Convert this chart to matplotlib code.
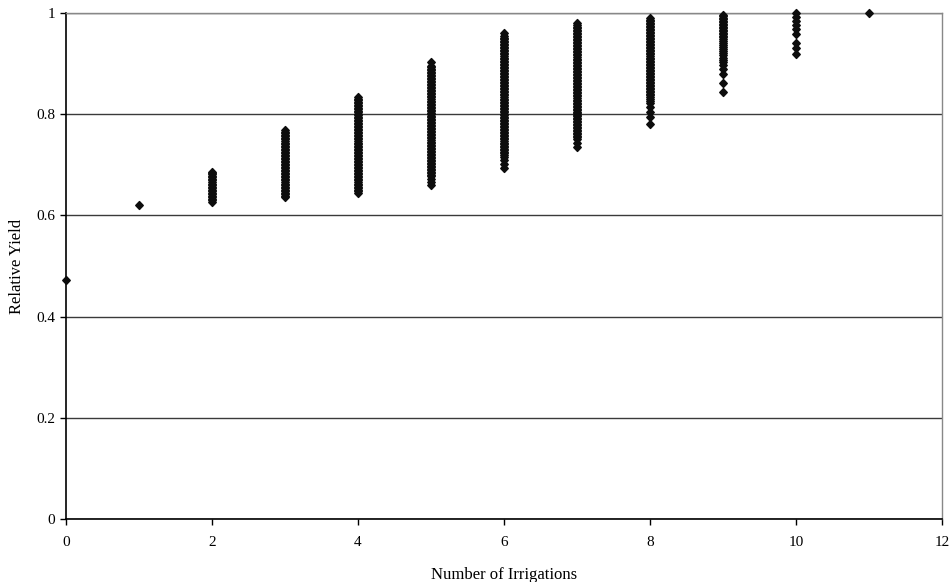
import matplotlib
matplotlib.use("Agg")
import matplotlib.pyplot as plt
from matplotlib.path import Path
from matplotlib.ticker import FormatStrFormatter

# Relative yield observed for each number of irrigations
irrigations = [0, 1, 2, 3, 4, 5, 6, 7, 8, 9, 10, 11]

yield_0 = [0.473]
yield_1 = [0.621]
yield_2 = [0.627, 0.630, 0.633, 0.636, 0.639, 0.642, 0.645, 0.648, 0.651,
           0.654, 0.657, 0.660, 0.663, 0.666, 0.669, 0.672, 0.675, 0.678,
           0.681, 0.684, 0.686]
yield_3 = [0.636, 0.639, 0.642, 0.645, 0.648, 0.651, 0.654, 0.657, 0.660,
           0.663, 0.666, 0.669, 0.672, 0.675, 0.678, 0.681, 0.684, 0.687,
           0.690, 0.693, 0.696, 0.699, 0.702, 0.705, 0.708, 0.711, 0.714,
           0.717, 0.720, 0.723, 0.726, 0.729, 0.732, 0.735, 0.738, 0.741,
           0.744, 0.747, 0.750, 0.753, 0.756, 0.759, 0.762, 0.765, 0.768]
yield_4 = [0.645, 0.648, 0.651, 0.654, 0.657, 0.660, 0.663, 0.666, 0.669,
           0.672, 0.675, 0.678, 0.681, 0.684, 0.687, 0.690, 0.693, 0.696,
           0.699, 0.702, 0.705, 0.708, 0.711, 0.714, 0.717, 0.720, 0.723,
           0.726, 0.729, 0.732, 0.735, 0.738, 0.741, 0.744, 0.747, 0.750,
           0.753, 0.756, 0.759, 0.762, 0.765, 0.768, 0.771, 0.774, 0.777,
           0.780, 0.783, 0.786, 0.789, 0.792, 0.795, 0.798, 0.801, 0.804,
           0.807, 0.810, 0.813, 0.816, 0.819, 0.822, 0.825, 0.828, 0.831,
           0.833]
yield_5 = [0.660, 0.666, 0.672, 0.677, 0.680, 0.683, 0.686, 0.689, 0.692,
           0.695, 0.698, 0.701, 0.704, 0.707, 0.710, 0.713, 0.716, 0.719,
           0.722, 0.725, 0.728, 0.731, 0.734, 0.737, 0.740, 0.743, 0.746,
           0.749, 0.752, 0.755, 0.758, 0.761, 0.764, 0.767, 0.770, 0.773,
           0.776, 0.779, 0.782, 0.785, 0.788, 0.791, 0.794, 0.797, 0.800,
           0.803, 0.806, 0.809, 0.812, 0.815, 0.818, 0.821, 0.824, 0.827,
           0.830, 0.833, 0.836, 0.839, 0.842, 0.845, 0.848, 0.851, 0.854,
           0.857, 0.860, 0.863, 0.866, 0.869, 0.872, 0.875, 0.878, 0.881,
           0.884, 0.887, 0.890, 0.893, 0.896, 0.904]
yield_6 = [0.693, 0.701, 0.709, 0.715, 0.720, 0.723, 0.726, 0.729, 0.732,
           0.735, 0.738, 0.741, 0.744, 0.747, 0.750, 0.753, 0.756, 0.759,
           0.762, 0.765, 0.768, 0.771, 0.774, 0.777, 0.780, 0.783, 0.786,
           0.789, 0.792, 0.795, 0.798, 0.801, 0.804, 0.807, 0.810, 0.813,
           0.816, 0.819, 0.822, 0.825, 0.828, 0.831, 0.834, 0.837, 0.840,
           0.843, 0.846, 0.849, 0.852, 0.855, 0.858, 0.861, 0.864, 0.867,
           0.870, 0.873, 0.876, 0.879, 0.882, 0.885, 0.888, 0.891, 0.894,
           0.897, 0.900, 0.903, 0.906, 0.909, 0.912, 0.915, 0.918, 0.921,
           0.924, 0.927, 0.930, 0.933, 0.936, 0.939, 0.942, 0.945, 0.948,
           0.951, 0.954, 0.960]
yield_7 = [0.735, 0.743, 0.750, 0.754, 0.757, 0.760, 0.763, 0.766, 0.769,
           0.772, 0.775, 0.778, 0.781, 0.784, 0.787, 0.790, 0.793, 0.796,
           0.799, 0.802, 0.805, 0.808, 0.811, 0.814, 0.817, 0.820, 0.823,
           0.826, 0.829, 0.832, 0.835, 0.838, 0.841, 0.844, 0.847, 0.850,
           0.853, 0.856, 0.859, 0.862, 0.865, 0.868, 0.871, 0.874, 0.877,
           0.880, 0.883, 0.886, 0.889, 0.892, 0.895, 0.898, 0.901, 0.904,
           0.907, 0.910, 0.913, 0.916, 0.919, 0.922, 0.925, 0.928, 0.931,
           0.934, 0.937, 0.940, 0.943, 0.946, 0.949, 0.952, 0.955, 0.958,
           0.961, 0.964, 0.967, 0.970, 0.973, 0.976, 0.980]
yield_8 = [0.781, 0.795, 0.805, 0.815, 0.822, 0.827, 0.831, 0.834, 0.837,
           0.840, 0.843, 0.846, 0.849, 0.852, 0.855, 0.858, 0.861, 0.864,
           0.867, 0.870, 0.873, 0.876, 0.879, 0.882, 0.885, 0.888, 0.891,
           0.894, 0.897, 0.900, 0.903, 0.906, 0.909, 0.912, 0.915, 0.918,
           0.921, 0.924, 0.927, 0.930, 0.933, 0.936, 0.939, 0.942, 0.945,
           0.948, 0.951, 0.954, 0.957, 0.960, 0.963, 0.966, 0.969, 0.972,
           0.975, 0.978, 0.981, 0.984, 0.987, 0.990]
yield_9 = [0.843, 0.862, 0.879, 0.889, 0.897, 0.904, 0.908, 0.912, 0.916,
           0.920, 0.924, 0.928, 0.932, 0.936, 0.940, 0.945, 0.949, 0.952,
           0.955, 0.958, 0.961, 0.964, 0.967, 0.970, 0.973, 0.976, 0.979,
           0.982, 0.985, 0.988, 0.991, 0.994, 0.996]
yield_10 = [0.918, 0.930, 0.940, 0.959, 0.968, 0.976, 0.984, 0.992, 1.000]
yield_11 = [1.000]

yields = [yield_0, yield_1, yield_2, yield_3, yield_4, yield_5, yield_6,
          yield_7, yield_8, yield_9, yield_10, yield_11]

x_ticks = [0, 2, 4, 6, 8, 10, 12]
y_ticks = [0, 0.2, 0.4, 0.6, 0.8, 1.0]

plt.rcParams["font.family"] = ["Liberation Serif", "DejaVu Serif"]

fig = plt.figure(figsize=(9.49, 5.82), dpi=100)
ax = fig.add_axes([0.0696, 0.1082, 0.9230, 0.8695])

# Diamond marker
diamond = Path([(0, 1), (0.95, 0), (0, -1), (-0.95, 0), (0, 1)],
               [Path.MOVETO, Path.LINETO, Path.LINETO, Path.LINETO,
                Path.CLOSEPOLY])

for n, ys in zip(irrigations, yields):
    ax.plot([n] * len(ys), ys, linestyle="none", marker=diamond,
            markersize=5.6, color="#0d0d0d", markeredgewidth=1.1,
            markeredgecolor="#0d0d0d", clip_on=False, zorder=3)

ax.set_xlim(0, 12)
ax.set_ylim(0, 1)
ax.set_xticks(x_ticks)
ax.set_yticks(y_ticks)
ax.yaxis.set_major_formatter(FormatStrFormatter("%g"))

ax.grid(axis="y", color="#3a3a3a", linewidth=1.0)
ax.set_axisbelow(True)

for side in ("top", "right"):
    ax.spines[side].set_color("#888888")
    ax.spines[side].set_linewidth(1.0)
for side in ("left", "bottom"):
    ax.spines[side].set_color("black")
    ax.spines[side].set_linewidth(1.2)

ax.tick_params(axis="both", direction="out", length=4, width=1.0,
               labelsize=11, colors="black")
ax.tick_params(axis="x", pad=8)
ax.tick_params(axis="y", pad=4)

ax.set_xlabel("Number of Irrigations", fontsize=12, labelpad=13)
ax.set_ylabel("Relative Yield", fontsize=12, labelpad=8)

fig.savefig("out.png", dpi=100)
